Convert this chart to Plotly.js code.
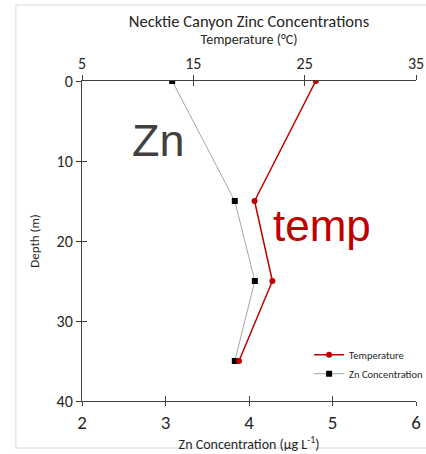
<!DOCTYPE html>
<html>
<head>
<meta charset="utf-8">
<script src="https://cdn.plot.ly/plotly-3.0.1.min.js"></script>
<style>html,body{margin:0;padding:0;background:#fff;}#chart{width:426px;height:454px;}</style>
</head>
<body>
<div id="chart"></div>
<script>
// Data
const depth = [0, 15, 25, 35];
const znConcentration = [3.08, 3.83, 4.07, 3.83];
const temperature = [26.0, 20.5, 22.1, 19.1];
const znTicks = [2, 3, 4, 5, 6];
const tempTicks = [5, 15, 25, 35];
const depthTicks = [0, 10, 20, 30, 40];

const FONT = 'Carlito, Lato, "Open Sans", sans-serif';
const AXC = '#404040';

const traces = [
  {
    name: 'Temperature', x: temperature, y: depth, xaxis: 'x2', yaxis: 'y',
    mode: 'lines+markers', line: {color: '#c00000', width: 1.5},
    marker: {symbol: 'circle', size: 6, color: '#c00000'}
  },
  {
    name: 'Zn Concentration', x: znConcentration, y: depth, xaxis: 'x', yaxis: 'y',
    mode: 'lines+markers', line: {color: '#a6a6a6', width: 1},
    marker: {symbol: 'square', size: 6, color: '#000000'}
  },
  // empty helper traces so the inside-tick overlay axes are drawn (tick marks crossing the axes)
  {x: [], y: [], xaxis: 'x3', yaxis: 'y2', type: 'scatter', mode: 'lines', showlegend: false, hoverinfo: 'skip'},
  {x: [], y: [], xaxis: 'x4', yaxis: 'y2', type: 'scatter', mode: 'lines', showlegend: false, hoverinfo: 'skip'}
];

const innerTicks = (extra) => Object.assign({
  showline: false, showgrid: false, zeroline: false, showticklabels: false,
  ticks: 'inside', ticklen: 5, tickcolor: AXC, tickwidth: 1, fixedrange: true
}, extra);

const layout = {
  width: 426, height: 454,
  margin: {l: 82, r: 10, t: 81, b: 53, autoexpand: false},
  paper_bgcolor: '#ffffff', plot_bgcolor: '#ffffff',
  font: {family: FONT, color: AXC, size: 14},
  showlegend: true,
  title: {text: 'Necktie Canyon Zinc Concentrations', font: {family: FONT, size: 16.5, color: '#262626'},
          x: 0.5, xref: 'paper', y: 0.954, yanchor: 'middle'},
  xaxis: {
    range: [2, 6], tickvals: znTicks, side: 'bottom', anchor: 'y',
    showline: true, linecolor: AXC, linewidth: 1, showgrid: false, zeroline: false,
    ticks: 'outside', ticklen: 4, tickcolor: AXC, tickfont: {size: 19, color: '#262626'},
    title: {text: 'Zn Concentration (µg L<sup>-1</sup>)', font: {size: 14, color: '#262626'}, standoff: 0}
  },
  xaxis2: {
    range: [5, 35], tickvals: tempTicks, side: 'top', overlaying: 'x', anchor: 'y',
    showline: true, linecolor: AXC, linewidth: 1, showgrid: false, zeroline: false,
    ticks: 'outside', ticklen: 5, tickcolor: AXC, tickfont: {size: 16, color: '#262626'},
    title: {text: 'Temperature (°C)', font: {size: 14, color: '#262626'}, standoff: 5}
  },
  xaxis3: innerTicks({range: [2, 6], tickvals: znTicks, side: 'bottom', overlaying: 'x', anchor: 'y2'}),
  xaxis4: innerTicks({range: [5, 35], tickvals: tempTicks, side: 'top', overlaying: 'x', anchor: 'y2'}),
  yaxis: {
    range: [40, 0], tickvals: depthTicks,
    showline: true, linecolor: AXC, linewidth: 1, showgrid: false, zeroline: false,
    ticks: 'outside', ticklen: 5, tickcolor: AXC, tickfont: {size: 16, color: '#262626'},
    title: {text: 'Depth (m)', font: {size: 13, color: '#262626'}, standoff: 14}
  },
  yaxis2: innerTicks({range: [40, 0], tickvals: depthTicks, side: 'left', overlaying: 'y', anchor: 'x'}),
  legend: {x: 0.68, y: 0.19, xanchor: 'left', yanchor: 'top', bgcolor: 'rgba(0,0,0,0)',
           font: {size: 10.5, color: '#262626'}, itemwidth: 30, tracegroupgap: 0},
  annotations: [
    {text: 'Zn', xref: 'x', yref: 'y', x: 2.92, y: 7.4, showarrow: false,
     font: {family: 'Liberation Sans, Arial, sans-serif', size: 45, color: '#404040'}},
    {text: 'temp', xref: 'x', yref: 'y', x: 4.87, y: 18.05, showarrow: false,
     font: {family: 'Liberation Sans, Arial, sans-serif', size: 44, color: '#c00000'}}
  ],
  shapes: [
    {type: 'rect', xref: 'paper', yref: 'paper', x0: -0.198, x1: 1.2, y0: -0.147, y1: 1.2375,
     line: {color: '#d9d9d9', width: 1}, fillcolor: 'rgba(0,0,0,0)', layer: 'below'}
  ]
};

Plotly.newPlot('chart', traces, layout, {displayModeBar: false, staticPlot: true});
</script>
</body>
</html>
